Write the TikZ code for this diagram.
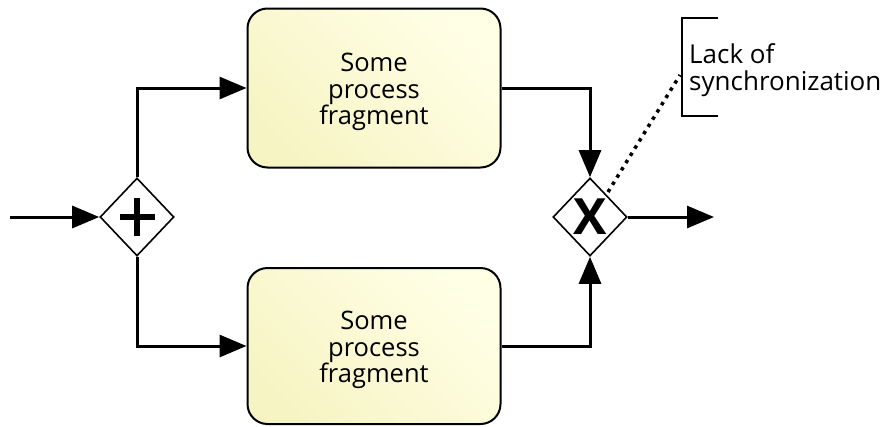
\documentclass[tikz,border=0pt]{standalone}
\usepackage{fontspec}
\setmainfont{Open Sans}
\usetikzlibrary{arrows.meta,shapes.geometric}
\definecolor{taskdark}{RGB}{247,244,196}
\definecolor{tasklight}{RGB}{255,255,230}
\begin{document}
\begin{tikzpicture}[x=1pt,y=-1pt,
  task/.style={draw=black, line width=2pt, rounded corners=20pt,
    top color=tasklight, bottom color=taskdark, shading angle=-45,
    minimum width=253pt, inner sep=0pt},
  tasktext/.style={align=center, inner sep=0pt,
    font=\fontsize{25.5}{26.5}\selectfont},
  gateway/.style={draw=black, line width=1.6pt, fill=white, diamond,
    minimum width=74pt, minimum height=78pt, inner sep=0pt},
  plusgw/.style={gateway, path picture={
    \draw[line width=6pt] ([xshift=-17.5pt]path picture bounding box.center)
      -- ([xshift=17.5pt]path picture bounding box.center);
    \draw[line width=6pt] ([yshift=-19pt]path picture bounding box.center)
      -- ([yshift=19pt]path picture bounding box.center);}},
  flow/.style={line width=3pt, -{Triangle[length=27pt,width=22pt]}},
  assoc/.style={line width=3.5pt, dash pattern=on 3.5pt off 5pt},
  bracket/.style={line width=2pt}
]
\path[use as bounding box] (0,0) rectangle (885,426);

% parallel split and exclusive merge
\node[plusgw] (split) at (137,217) {};
\node[gateway, font=\fontsize{50}{50}\selectfont\bfseries] (merge) at (590,217) {X};

% the two branches
\node[task, minimum height=159pt] (taskA) at (374,88) {};
\node[task, minimum height=156pt] (taskB) at (374,346) {};
\node[tasktext] (taskAtext) at ([yshift=-4pt]taskA.center) {Some\\process\\fragment};
\node[tasktext] (taskBtext) at ([yshift=-4pt]taskB.center) {Some\\process\\fragment};

% sequence flows
\coordinate (start) at (10,217);
\coordinate (finish) at (714,217);
\draw[flow] (start) -- (split.west);
\draw[flow] (split.north) |- (taskA.west);
\draw[flow] (split.south) |- (taskB.west);
\draw[flow] (taskA.east) -| (merge.north);
\draw[flow] (taskB.east) -| (merge.south);
\draw[flow] (merge.east) -- (finish);

% text annotation
\coordinate (bt) at (718,18);
\coordinate (btl) at (682,18);
\coordinate (bbl) at (682,116);
\coordinate (bb) at (718,116);
\draw[bracket] (bt) -- (btl) -- (bbl) -- (bb);
\node[anchor=west, align=left, inner sep=0pt,
  font=\fontsize{26}{27}\selectfont] (note) at (689,70) {Lack of\\synchronization};
\coordinate (assocEnd) at (680,75);
\coordinate (assocStart) at (608,192);
\draw[assoc] (assocStart) -- (assocEnd);
\end{tikzpicture}
\end{document}
